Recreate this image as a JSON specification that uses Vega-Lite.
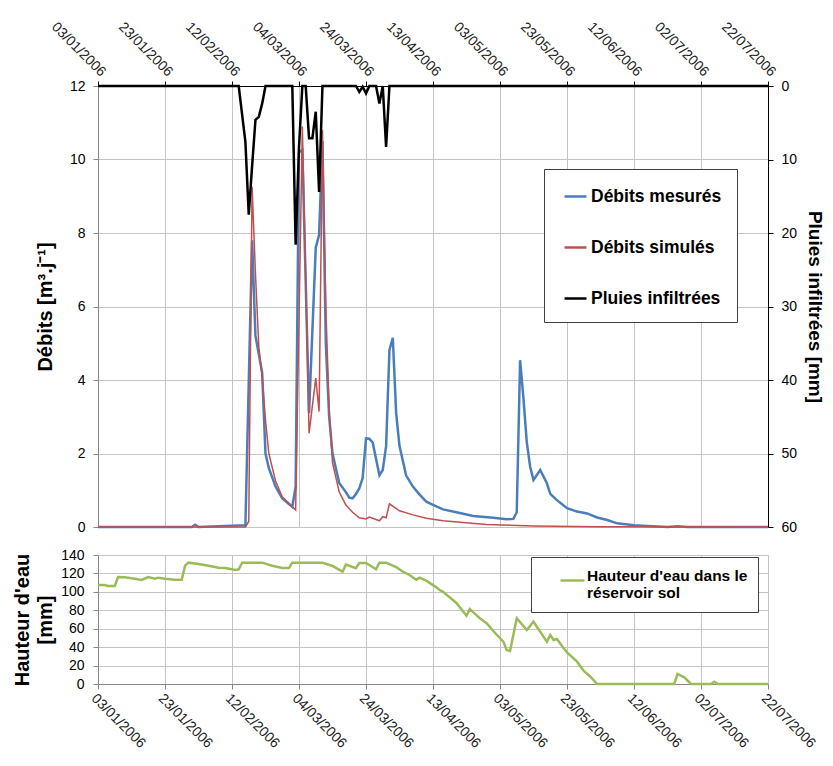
{
  "$schema": "https://vega.github.io/schema/vega-lite/v6.json",
  "background": "white",
  "padding": {"left": 12, "top": 19, "right": 12, "bottom": 0},
  "datasets": {
    "debm": [
      {"d": "2006-01-03T00:00", "v": 0}, {"d": "2006-01-31T00:00", "v": 0}, {"d": "2006-02-01T00:00", "v": 0.06}, {"d": "2006-02-02T00:00", "v": 0},
      {"d": "2006-02-16T00:00", "v": 0.05}, {"d": "2006-02-18T00:00", "v": 7.8}, {"d": "2006-02-19T00:00", "v": 5.2}, {"d": "2006-02-21T00:00", "v": 4.2},
      {"d": "2006-02-22T00:00", "v": 2.0}, {"d": "2006-02-23T00:00", "v": 1.6}, {"d": "2006-02-25T00:00", "v": 1.1}, {"d": "2006-02-27T00:00", "v": 0.78},
      {"d": "2006-03-02T00:00", "v": 0.55}, {"d": "2006-03-03T00:00", "v": 1.1}, {"d": "2006-03-04T00:00", "v": 10.2}, {"d": "2006-03-05T00:00", "v": 10.26},
      {"d": "2006-03-07T00:00", "v": 3.1}, {"d": "2006-03-09T00:00", "v": 7.6}, {"d": "2006-03-10T00:00", "v": 7.95}, {"d": "2006-03-11T00:00", "v": 10.5},
      {"d": "2006-03-12T00:00", "v": 5.0}, {"d": "2006-03-13T00:00", "v": 3.0}, {"d": "2006-03-14T00:00", "v": 2.0}, {"d": "2006-03-16T00:00", "v": 1.2},
      {"d": "2006-03-18T00:00", "v": 0.95}, {"d": "2006-03-19T00:00", "v": 0.8}, {"d": "2006-03-20T00:00", "v": 0.78}, {"d": "2006-03-21T00:00", "v": 0.9},
      {"d": "2006-03-22T00:00", "v": 1.05}, {"d": "2006-03-23T00:00", "v": 1.33}, {"d": "2006-03-24T00:00", "v": 2.41}, {"d": "2006-03-25T00:00", "v": 2.4},
      {"d": "2006-03-26T00:00", "v": 2.3}, {"d": "2006-03-28T00:00", "v": 1.41}, {"d": "2006-03-29T00:00", "v": 1.55}, {"d": "2006-03-30T00:00", "v": 2.2},
      {"d": "2006-03-31T00:00", "v": 4.82}, {"d": "2006-04-01T00:00", "v": 5.15}, {"d": "2006-04-02T00:00", "v": 3.1}, {"d": "2006-04-03T00:00", "v": 2.2},
      {"d": "2006-04-05T00:00", "v": 1.4}, {"d": "2006-04-07T00:00", "v": 1.1}, {"d": "2006-04-09T00:00", "v": 0.88}, {"d": "2006-04-11T00:00", "v": 0.69},
      {"d": "2006-04-13T00:00", "v": 0.6}, {"d": "2006-04-16T00:00", "v": 0.48}, {"d": "2006-04-20T00:00", "v": 0.4}, {"d": "2006-04-25T00:00", "v": 0.3},
      {"d": "2006-05-01T00:00", "v": 0.25}, {"d": "2006-05-05T00:00", "v": 0.21}, {"d": "2006-05-07T00:00", "v": 0.22}, {"d": "2006-05-08T00:00", "v": 0.4},
      {"d": "2006-05-09T00:00", "v": 4.54}, {"d": "2006-05-10T00:00", "v": 3.5}, {"d": "2006-05-11T00:00", "v": 2.3}, {"d": "2006-05-12T00:00", "v": 1.64},
      {"d": "2006-05-13T00:00", "v": 1.28}, {"d": "2006-05-15T00:00", "v": 1.55}, {"d": "2006-05-17T00:00", "v": 1.19}, {"d": "2006-05-18T00:00", "v": 0.9},
      {"d": "2006-05-20T00:00", "v": 0.73}, {"d": "2006-05-23T00:00", "v": 0.51}, {"d": "2006-05-26T00:00", "v": 0.42}, {"d": "2006-05-29T00:00", "v": 0.37},
      {"d": "2006-06-01T00:00", "v": 0.26}, {"d": "2006-06-04T00:00", "v": 0.19}, {"d": "2006-06-07T00:00", "v": 0.1}, {"d": "2006-06-12T00:00", "v": 0.05},
      {"d": "2006-06-16T00:00", "v": 0.03}, {"d": "2006-06-22T00:00", "v": 0}, {"d": "2006-06-25T00:00", "v": 0.02}, {"d": "2006-06-28T00:00", "v": 0},
      {"d": "2006-07-22T00:00", "v": 0}
    ],
    "debs": [
      {"d": "2006-01-03T00:00", "v": 0}, {"d": "2006-02-16T00:00", "v": 0}, {"d": "2006-02-17T00:00", "v": 0.15}, {"d": "2006-02-18T00:00", "v": 9.26},
      {"d": "2006-02-19T00:00", "v": 6.9}, {"d": "2006-02-20T00:00", "v": 4.9}, {"d": "2006-02-21T00:00", "v": 4.1}, {"d": "2006-02-22T00:00", "v": 2.9},
      {"d": "2006-02-23T00:00", "v": 2.0}, {"d": "2006-02-25T00:00", "v": 1.25}, {"d": "2006-02-27T00:00", "v": 0.82}, {"d": "2006-03-02T00:00", "v": 0.55},
      {"d": "2006-03-03T00:00", "v": 0.46}, {"d": "2006-03-05T00:00", "v": 10.9}, {"d": "2006-03-07T00:00", "v": 2.55}, {"d": "2006-03-09T00:00", "v": 4.05},
      {"d": "2006-03-10T00:00", "v": 3.14}, {"d": "2006-03-11T00:00", "v": 10.8}, {"d": "2006-03-12T00:00", "v": 6.0}, {"d": "2006-03-13T00:00", "v": 3.2},
      {"d": "2006-03-14T00:00", "v": 1.75}, {"d": "2006-03-16T00:00", "v": 0.95}, {"d": "2006-03-18T00:00", "v": 0.6}, {"d": "2006-03-20T00:00", "v": 0.4},
      {"d": "2006-03-22T00:00", "v": 0.25}, {"d": "2006-03-24T00:00", "v": 0.22}, {"d": "2006-03-25T00:00", "v": 0.27}, {"d": "2006-03-28T00:00", "v": 0.17},
      {"d": "2006-03-29T00:00", "v": 0.28}, {"d": "2006-03-30T00:00", "v": 0.25}, {"d": "2006-03-31T00:00", "v": 0.63}, {"d": "2006-04-03T00:00", "v": 0.44},
      {"d": "2006-04-07T00:00", "v": 0.33}, {"d": "2006-04-11T00:00", "v": 0.24}, {"d": "2006-04-16T00:00", "v": 0.17}, {"d": "2006-04-22T00:00", "v": 0.12},
      {"d": "2006-04-29T00:00", "v": 0.07}, {"d": "2006-05-06T00:00", "v": 0.05}, {"d": "2006-05-13T00:00", "v": 0.03}, {"d": "2006-06-01T00:00", "v": 0.01},
      {"d": "2006-07-22T00:00", "v": 0}
    ],
    "pluie": [
      {"d": "2006-01-03T00:00", "v": 0}, {"d": "2006-02-14T00:00", "v": 0}, {"d": "2006-02-16T00:00", "v": 7.6}, {"d": "2006-02-17T00:00", "v": 17.5},
      {"d": "2006-02-18T00:00", "v": 10.9}, {"d": "2006-02-19T00:00", "v": 4.6}, {"d": "2006-02-20T00:00", "v": 4.2}, {"d": "2006-02-21T00:00", "v": 2.4},
      {"d": "2006-02-22T00:00", "v": 0}, {"d": "2006-03-02T00:00", "v": 0}, {"d": "2006-03-03T00:00", "v": 21.6}, {"d": "2006-03-04T00:00", "v": 8.3},
      {"d": "2006-03-05T00:00", "v": 0}, {"d": "2006-03-06T00:00", "v": 0}, {"d": "2006-03-07T00:00", "v": 7.1}, {"d": "2006-03-08T00:00", "v": 7.1},
      {"d": "2006-03-09T00:00", "v": 3.5}, {"d": "2006-03-10T00:00", "v": 14.4}, {"d": "2006-03-11T00:00", "v": 0}, {"d": "2006-03-21T00:00", "v": 0},
      {"d": "2006-03-22T00:00", "v": 0.8}, {"d": "2006-03-23T00:00", "v": 0.1}, {"d": "2006-03-24T00:00", "v": 1.0}, {"d": "2006-03-25T00:00", "v": 0},
      {"d": "2006-03-27T00:00", "v": 0}, {"d": "2006-03-28T00:00", "v": 2.4}, {"d": "2006-03-29T00:00", "v": 0}, {"d": "2006-03-30T00:00", "v": 8.3},
      {"d": "2006-03-31T00:00", "v": 0}, {"d": "2006-07-22T00:00", "v": 0}
    ],
    "sol": [
      {"d": "2006-01-03T00:00", "v": 107.4}, {"d": "2006-01-05T00:00", "v": 107.4}, {"d": "2006-01-06T00:00", "v": 106.4}, {"d": "2006-01-08T00:00", "v": 106.4},
      {"d": "2006-01-09T00:00", "v": 116.1}, {"d": "2006-01-11T00:00", "v": 115.8}, {"d": "2006-01-14T00:00", "v": 114.3}, {"d": "2006-01-16T00:00", "v": 112.9},
      {"d": "2006-01-18T00:00", "v": 116.1}, {"d": "2006-01-20T00:00", "v": 114.3}, {"d": "2006-01-21T00:00", "v": 115.4}, {"d": "2006-01-23T00:00", "v": 114.3},
      {"d": "2006-01-26T00:00", "v": 113.2}, {"d": "2006-01-28T00:00", "v": 113.2}, {"d": "2006-01-29T00:00", "v": 128.4}, {"d": "2006-01-30T00:00", "v": 131.7},
      {"d": "2006-02-02T00:00", "v": 130.2}, {"d": "2006-02-05T00:00", "v": 128.4}, {"d": "2006-02-08T00:00", "v": 126.2}, {"d": "2006-02-10T00:00", "v": 125.9},
      {"d": "2006-02-13T00:00", "v": 123.7}, {"d": "2006-02-14T00:00", "v": 124.5}, {"d": "2006-02-15T00:00", "v": 131.7}, {"d": "2006-02-21T00:00", "v": 131.7},
      {"d": "2006-02-24T00:00", "v": 128.4}, {"d": "2006-02-27T00:00", "v": 125.9}, {"d": "2006-03-01T00:00", "v": 125.9}, {"d": "2006-03-02T00:00", "v": 131.7},
      {"d": "2006-03-11T00:00", "v": 131.7}, {"d": "2006-03-14T00:00", "v": 128.1}, {"d": "2006-03-17T00:00", "v": 121.9}, {"d": "2006-03-18T00:00", "v": 129.5},
      {"d": "2006-03-21T00:00", "v": 125.6}, {"d": "2006-03-22T00:00", "v": 131.3}, {"d": "2006-03-24T00:00", "v": 131.3}, {"d": "2006-03-27T00:00", "v": 124.5},
      {"d": "2006-03-28T00:00", "v": 131.7}, {"d": "2006-03-30T00:00", "v": 131.7}, {"d": "2006-04-02T00:00", "v": 127.0}, {"d": "2006-04-04T00:00", "v": 121.9},
      {"d": "2006-04-06T00:00", "v": 118.3}, {"d": "2006-04-08T00:00", "v": 113.2}, {"d": "2006-04-09T00:00", "v": 115.4}, {"d": "2006-04-11T00:00", "v": 112.1},
      {"d": "2006-04-14T00:00", "v": 104.9}, {"d": "2006-04-15T00:00", "v": 102.0}, {"d": "2006-04-16T00:00", "v": 100.0}, {"d": "2006-04-20T00:00", "v": 88.0},
      {"d": "2006-04-23T00:00", "v": 74.1}, {"d": "2006-04-24T00:00", "v": 81.4}, {"d": "2006-04-27T00:00", "v": 71.3}, {"d": "2006-04-29T00:00", "v": 65.9},
      {"d": "2006-05-01T00:00", "v": 57.5}, {"d": "2006-05-04T00:00", "v": 45.9}, {"d": "2006-05-05T00:00", "v": 36.9}, {"d": "2006-05-06T00:00", "v": 35.8},
      {"d": "2006-05-08T00:00", "v": 71.3}, {"d": "2006-05-11T00:00", "v": 58.6}, {"d": "2006-05-13T00:00", "v": 67.6}, {"d": "2006-05-17T00:00", "v": 45.9},
      {"d": "2006-05-18T00:00", "v": 53.2}, {"d": "2006-05-19T00:00", "v": 47.8}, {"d": "2006-05-20T00:00", "v": 48.8}, {"d": "2006-05-22T00:00", "v": 38.7},
      {"d": "2006-05-23T00:00", "v": 34.4}, {"d": "2006-05-26T00:00", "v": 24.2}, {"d": "2006-05-28T00:00", "v": 14.1}, {"d": "2006-05-30T00:00", "v": 7.9},
      {"d": "2006-06-01T00:00", "v": 0}, {"d": "2006-06-24T00:00", "v": 0}, {"d": "2006-06-25T00:00", "v": 10.9}, {"d": "2006-06-27T00:00", "v": 7.3},
      {"d": "2006-06-29T00:00", "v": 0}, {"d": "2006-07-05T00:00", "v": 0}, {"d": "2006-07-06T00:00", "v": 2.5}, {"d": "2006-07-07T00:00", "v": 0},
      {"d": "2006-07-22T00:00", "v": 0}
    ]
  },
  "spacing": 14,
  "resolve": {"scale": {"x": "independent", "color": "independent"}, "legend": {"color": "independent"}},
  "vconcat": [
    {
      "width": 670,
      "height": 441,
      "encoding": {
        "x": {
          "field": "d", "type": "temporal",
          "scale": {"domain": [{"year": 2006, "month": 1, "date": 3}, {"year": 2006, "month": 7, "date": 22}], "nice": false},
          "axis": {
            "orient": "top", "title": null, "format": "%d/%m/%Y", "labelAngle": 45, "labelFontSize": 14, "labelColor": "#222",
            "labelPadding": 2, "labelFlush": false, "labelOverlap": false, "labelBound": false, "grid": true, "domainColor": "#000", "tickColor": "#000",
            "values": [
              {"year": 2006, "month": 1, "date": 3}, {"year": 2006, "month": 1, "date": 23}, {"year": 2006, "month": 2, "date": 12},
              {"year": 2006, "month": 3, "date": 4}, {"year": 2006, "month": 3, "date": 24}, {"year": 2006, "month": 4, "date": 13},
              {"year": 2006, "month": 5, "date": 3}, {"year": 2006, "month": 5, "date": 23}, {"year": 2006, "month": 6, "date": 12},
              {"year": 2006, "month": 7, "date": 2}, {"year": 2006, "month": 7, "date": 22}
            ]
          }
        }
      },
      "layer": [
        {
          "encoding": {
            "y": {
              "field": "v", "type": "quantitative",
              "scale": {"domain": [0, 12], "nice": false, "zero": true},
              "axis": {"title": "Débits [m³.j⁻¹]", "values": [0, 2, 4, 6, 8, 10, 12], "labelPadding": 8, "titlePadding": 14, "grid": true}
            }
          },
          "layer": [
            {
              "data": {"name": "debm"},
              "mark": {"type": "line", "strokeWidth": 2.5},
              "encoding": {
                "color": {"datum": "Débits mesurés", "type": "nominal",
                  "scale": {"domain": ["Débits mesurés", "Débits simulés", "Pluies infiltrées"], "range": ["#4a7ebb", "#c0504d", "#000000"]},
                  "legend": {"title": null, "orient": "none", "legendX": 446, "legendY": 83, "padding": 15, "rowPadding": 30,
                    "labelFontSize": 17.5, "symbolSize": 484, "symbolStrokeWidth": 2.5, "labelOffset": 3, "symbolOffset": 4}
                }
              }
            },
            {
              "data": {"name": "debs"},
              "mark": {"type": "line", "strokeWidth": 1.5},
              "encoding": {
                "color": {"datum": "Débits simulés", "type": "nominal"}
              }
            }
          ]
        },
        {
          "data": {"name": "pluie"},
          "mark": {"type": "line", "strokeWidth": 2.5},
          "encoding": {
            "y": {
              "field": "v", "type": "quantitative",
              "scale": {"domain": [0, 60], "reverse": true, "nice": false},
              "axis": {"orient": "right", "title": "Pluies infiltrées [mm]", "titleFontSize": 19, "values": [0, 10, 20, 30, 40, 50, 60], "grid": false,
                "domainColor": "#000", "tickColor": "#000", "labelPadding": 8, "titlePadding": 8}
            },
            "color": {"datum": "Pluies infiltrées", "type": "nominal"}
          }
        }
      ],
      "resolve": {"scale": {"y": "independent"}}
    },
    {
      "width": 670,
      "height": 129,
      "data": {"name": "sol"},
      "mark": {"type": "line", "strokeWidth": 2.5},
      "encoding": {
        "x": {
          "field": "d", "type": "temporal",
          "scale": {"domain": [{"year": 2006, "month": 1, "date": 3}, {"year": 2006, "month": 7, "date": 22}], "nice": false},
          "axis": {
            "orient": "bottom", "title": null, "format": "%d/%m/%Y", "labelAngle": 45, "labelFontSize": 14, "labelColor": "#222",
            "labelPadding": 2, "labelFlush": false, "labelOverlap": false, "labelBound": false, "grid": true,
            "values": [
              {"year": 2006, "month": 1, "date": 3}, {"year": 2006, "month": 1, "date": 23}, {"year": 2006, "month": 2, "date": 12},
              {"year": 2006, "month": 3, "date": 4}, {"year": 2006, "month": 3, "date": 24}, {"year": 2006, "month": 4, "date": 13},
              {"year": 2006, "month": 5, "date": 3}, {"year": 2006, "month": 5, "date": 23}, {"year": 2006, "month": 6, "date": 12},
              {"year": 2006, "month": 7, "date": 2}, {"year": 2006, "month": 7, "date": 22}
            ]
          }
        },
        "y": {
          "field": "v", "type": "quantitative",
          "scale": {"domain": [0, 140], "nice": false},
          "axis": {"title": ["Hauteur d'eau", "[mm]"], "titleLineHeight": 23, "values": [0, 20, 40, 60, 80, 100, 120, 140], "labelPadding": 9, "titlePadding": 5, "grid": true}
        },
        "color": {
          "datum": "Hauteur d'eau dans le réservoir sol", "type": "nominal",
          "scale": {"domain": ["Hauteur d'eau dans le réservoir sol"], "range": ["#9bbb59"]},
          "legend": {"title": null, "orient": "none", "legendX": 433, "legendY": 2, "padding": 10, "symbolOffset": 18,
            "labelFontSize": 15.5, "symbolSize": 576, "symbolStrokeWidth": 2.5, "labelOffset": 1, "labelBaseline": "alphabetic",
            "labelExpr": "[\"Hauteur d'eau dans le\", \"réservoir sol\"]"}
        }
      }
    }
  ],
  "config": {
    "font": "Liberation Sans",
    "view": {"stroke": null},
    "axis": {
      "labelFont": "Liberation Sans", "titleFont": "Liberation Sans", "labelFontSize": 14, "labelColor": "#000",
      "titleFontSize": 20, "titleFontWeight": "bold", "titleColor": "#000",
      "gridColor": "#c4c4c4", "gridOpacity": 1, "domainColor": "#868686", "tickColor": "#868686", "tickSize": 5
    },
    "legend": {
      "labelFont": "Liberation Sans", "labelFontWeight": "bold", "labelColor": "#000", "symbolType": "stroke",
      "strokeColor": "#404040", "fillColor": "#ffffff", "labelLimit": 400
    }
  }
}
